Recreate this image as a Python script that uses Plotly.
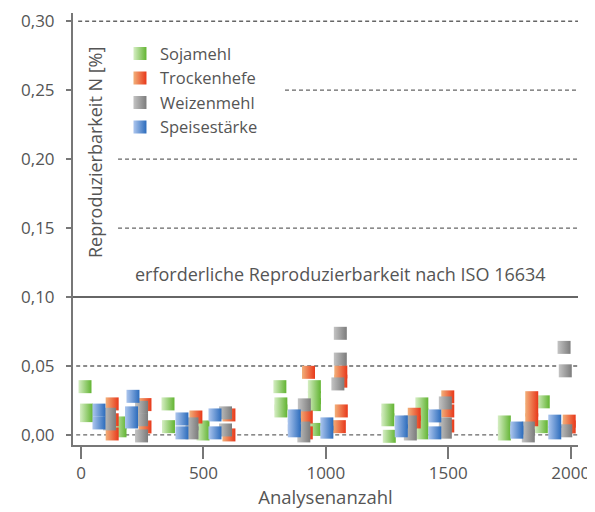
import plotly.graph_objects as go

# ---- data ----
soja_x = [16, 22, 22, 159, 159, 355, 357, 498, 498, 812, 816, 816, 953, 953, 953, 953,
          1253, 1253, 1259, 1392, 1392, 1392, 1392, 1729, 1729, 1888, 1880]
soja_y = [0.035, 0.018, 0.014, 0.0087, 0.003, 0.0225, 0.006, 0.0058, 0.0007, 0.035, 0.0225, 0.0174,
          0.035, 0.027, 0.022, 0.004, 0.018, 0.011, -0.001, 0.0225, 0.0145, 0.0058, 0.0015,
          0.0094, 0.0007, 0.024, 0.006]

hefe_x = [127, 127, 127, 261, 261, 469, 604, 604, 929, 920, 920, 1061, 1061, 1063, 1055,
          1361, 1361, 1498, 1498, 1498, 1841, 1841, 1841, 1994, 1994]
hefe_y = [0.0225, 0.011, 0.0007, 0.022, 0.0058, 0.013, 0.0145, 0.0, 0.0454, 0.013, 0.0015,
          0.0457, 0.039, 0.0174, 0.006, 0.015, 0.0094, 0.0276, 0.0174, 0.0065, 0.027, 0.018, 0.011,
          0.010, 0.0058]

weizen_x = [116, 116, 247, 247, 247, 453, 453, 590, 590, 912, 910, 910, 1059, 1059, 1049,
            1345, 1345, 1488, 1488, 1488, 1827, 1827, 1973, 1978, 1980]
weizen_y = [0.015, 0.008, 0.020, 0.011, -0.0007, 0.008, 0.0015, 0.016, 0.0036, 0.0218, 0.005, -0.0007,
            0.0737, 0.055, 0.037, 0.0094, 0.0007, 0.0232, 0.008, 0.002, 0.005, -0.0007,
            0.0635, 0.0465, 0.003]

staerke_x = [73, 73, 212, 206, 206, 412, 412, 547, 547, 871, 871, 871, 1004, 1004,
             1308, 1308, 1445, 1445, 1780, 1780, 1935, 1935]
staerke_y = [0.018, 0.0087, 0.028, 0.016, 0.0094, 0.0116, 0.0015, 0.0145, 0.0015, 0.0138, 0.0073, 0.003,
             0.008, 0.002, 0.0094, 0.003, 0.0138, 0.0015, 0.005, 0.002, 0.010, 0.0015]

y_ticks = [0.0, 0.05, 0.10, 0.15, 0.20, 0.25, 0.30]
y_ticktext = ["0,00", "0,05", "0,10", "0,15", "0,20", "0,25", "0,30"]
x_ticks = [0, 500, 1000, 1500, 2000]
x_ticktext = ["0", "500", "1000", "1500", "2000"]
limit_value = 0.10

FONT = "Open Sans"
TXT = "#555555"

series = [
    ("Sojamehl", soja_x, soja_y, "#d6eec4", "#62b432"),
    ("Trockenhefe", hefe_x, hefe_y, "#f2b07a", "#e8381a"),
    ("Weizenmehl", weizen_x, weizen_y, "#c4c4c4", "#7c7c7c"),
    ("Speisestärke", staerke_x, staerke_y, "#adc6ee", "#2c6cbc"),
]

fig = go.Figure()
for name, xs, ys, c1, c2 in series:
    fig.add_trace(go.Scatter(
        x=xs, y=ys, mode="markers", name=name,
        marker=dict(symbol="square", size=13, color=c1,
                    gradient=dict(type="horizontal", color=c2),
                    line=dict(width=0)),
    ))

XMIN, XMAX = -33, 2030
dash_lines = [(0.0, -20), (0.05, -20), (0.15, 151), (0.20, 151), (0.25, 833), (0.30, -12)]
shapes = []
for yv, x0 in dash_lines:
    shapes.append(dict(type="line", xref="x", yref="y", x0=x0, x1=XMAX, y0=yv, y1=yv,
                       line=dict(color="#666666", width=1.3, dash="4px,3px"), layer="below"))
shapes.append(dict(type="line", xref="x", yref="y", x0=XMIN, x1=XMAX, y0=limit_value, y1=limit_value,
                   line=dict(color="#666666", width=2), layer="below"))

# the page places the figure 8px from the top-left corner; size compensates for that
fig.update_layout(
    width=587, height=504,
    margin=dict(l=65, r=17, t=5, b=67, autoexpand=False),
    paper_bgcolor="white", plot_bgcolor="white",
    font=dict(family=FONT, size=17, color=TXT),
    shapes=shapes,
    showlegend=True,
    legend=dict(x=0.093, y=0.946, xanchor="left", yanchor="top",
                font=dict(family=FONT, size=16.5, color=TXT),
                bgcolor="rgba(0,0,0,0)", tracegroupgap=0),
    annotations=[
        dict(text="erforderliche Reproduzierbarkeit nach ISO 16634", xref="paper", yref="y",
             x=0.529, y=0.117, xanchor="center", yanchor="middle", showarrow=False,
             font=dict(family=FONT, size=18, color=TXT)),
        dict(text="Reproduzierbarkeit N [%]", xref="paper", yref="paper", x=0.0436, y=0.676,
             xanchor="center", yanchor="middle",
             textangle=-90, showarrow=False, font=dict(family=FONT, size=18, color=TXT)),
    ],
)
fig.update_xaxes(range=[XMIN, XMAX], tickvals=x_ticks, ticktext=x_ticktext,
                 showgrid=False, zeroline=False, showline=True, linecolor="#777777", linewidth=2,
                 ticks="outside", ticklen=12, tickwidth=2, tickcolor="#777777",
                 tickfont=dict(size=17, color=TXT), automargin=False,
                 title=dict(text="Analysenanzahl", font=dict(size=18.5, color=TXT), standoff=4))
fig.update_yaxes(range=[-0.0073, 0.306], tickvals=y_ticks, ticktext=y_ticktext,
                 showgrid=False, zeroline=False, showline=True, linecolor="#777777", linewidth=2,
                 ticks="outside", ticklen=5, tickwidth=2, tickcolor="#777777", automargin=False,
                 tickfont=dict(size=17, color=TXT), ticklabelstandoff=8)

fig.write_html("out.html")
